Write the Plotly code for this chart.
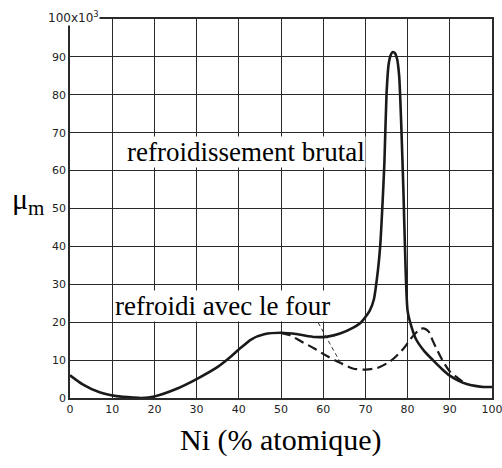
import plotly.graph_objects as go

# Solid curve: refroidissement brutal (quenched)
brutal_x = [0, 3, 7, 11, 15, 17, 20, 25, 30, 35, 38, 40, 43, 46, 50, 54, 58, 61, 64, 67, 69, 71, 72,
            73, 73.5, 74, 74.5, 75, 75.5, 76, 76.5, 77, 77.5, 78, 78.5, 79, 79.5, 80, 81, 82, 84, 86,
            88, 90, 92, 94, 96, 98, 100]
brutal_y = [6, 3.6, 1.5, 0.5, 0.1, 0, 0.4, 2.3, 5, 8.2, 10.8, 12.8, 15.5, 16.8, 17.2, 16.8, 16.1, 16.2,
            17.0, 18.5, 20, 23, 26, 34, 40, 50, 62, 80, 88, 90.5, 91.3, 91, 89.5, 85, 72, 55, 35, 23,
            18.5, 15.5, 12.3, 10, 7.8, 5.9, 4.6, 3.7, 3.2, 2.9, 2.9]

# Dashed curve: refroidi avec le four (furnace cooled)
four_x = [50, 52, 55, 58, 61, 64, 67, 70, 73, 76, 79, 81, 83, 84, 85, 86, 88, 90, 92, 93]
four_y = [17.2, 16.6, 14.8, 13, 11, 9.3, 7.8, 7.5, 8, 9.8, 13, 16, 18.2, 18.3, 17.5, 15, 10.5, 7, 5.2, 4.3]

# Leader line from label to dashed curve
leader_x = [58, 64.5]
leader_y = [21.5, 8.5]

x_ticks = [0, 10, 20, 30, 40, 50, 60, 70, 80, 90, 100]
y_ticks = [0, 10, 20, 30, 40, 50, 60, 70, 80, 90]

line_col = "#2a2a2a"
serif = "Liberation Serif, Times New Roman, DejaVu Serif, serif"

fig = go.Figure()
fig.add_trace(go.Scatter(x=brutal_x, y=brutal_y, mode="lines",
                         line=dict(color="#1a1a1a", width=2.6, shape="spline", smoothing=0.6),
                         showlegend=False, hoverinfo="skip"))
fig.add_trace(go.Scatter(x=four_x, y=four_y, mode="lines",
                         line=dict(color="#1a1a1a", width=2.2, dash="10px,5px", shape="spline", smoothing=0.8),
                         showlegend=False, hoverinfo="skip"))
fig.add_trace(go.Scatter(x=leader_x, y=leader_y, mode="lines",
                         line=dict(color="#333333", width=1, dash="4px,3px"),
                         showlegend=False, hoverinfo="skip"))

tick_font = dict(family="DejaVu Sans", size=11, color="#222222")

fig.update_layout(
    width=502, height=468,
    margin=dict(l=70, r=10, t=18.5, b=69.5),
    paper_bgcolor="white", plot_bgcolor="white",
    xaxis=dict(range=[0, 100], tickvals=x_ticks, ticktext=[str(v) for v in x_ticks],
               showgrid=True, gridcolor=line_col, gridwidth=1.4, automargin=False,
               ticklabeloverflow="allow",
               showline=True, linecolor=line_col, linewidth=1.6, mirror=True,
               ticks="", tickfont=tick_font, zeroline=False, fixedrange=True),
    yaxis=dict(range=[0, 100], tickvals=y_ticks, ticktext=[str(v) for v in y_ticks],
               showgrid=True, gridcolor=line_col, gridwidth=1.4, automargin=False,
               showline=True, linecolor=line_col, linewidth=1.6, mirror=True,
               ticks="", tickfont=tick_font, zeroline=False, fixedrange=True),
    annotations=[
        dict(x=7.0, y=100, xref="x", yref="y", text="100x10<sup>3</sup>",
             showarrow=False, xanchor="right", yanchor="middle",
             font=dict(family="DejaVu Sans", size=12, color="#222222"),
             bgcolor="white", borderpad=0, yshift=2),
        dict(x=41.8, y=64.9, xref="x", yref="y", text="refroidissement brutal",
             showarrow=False, font=dict(family=serif, size=27, color="black"),
             bgcolor="white", borderpad=0),
        dict(x=36.1, y=24.3, xref="x", yref="y", text="refroidi avec le four",
             showarrow=False, font=dict(family=serif, size=27, color="black"),
             bgcolor="white", borderpad=0),
        dict(x=-0.142, y=0.52, xref="paper", yref="paper", text="μ<sub>m</sub>",
             showarrow=False, xanchor="left", font=dict(family=serif, size=30, color="black")),
        dict(x=0.499, y=-0.11, xref="paper", yref="paper", text="Ni (% atomique)",
             showarrow=False, yanchor="middle",
             font=dict(family=serif, size=30, color="black")),
    ],
)

fig.write_html("out.html", config={"displayModeBar": False},
               post_script="document.body.style.margin='0';")
